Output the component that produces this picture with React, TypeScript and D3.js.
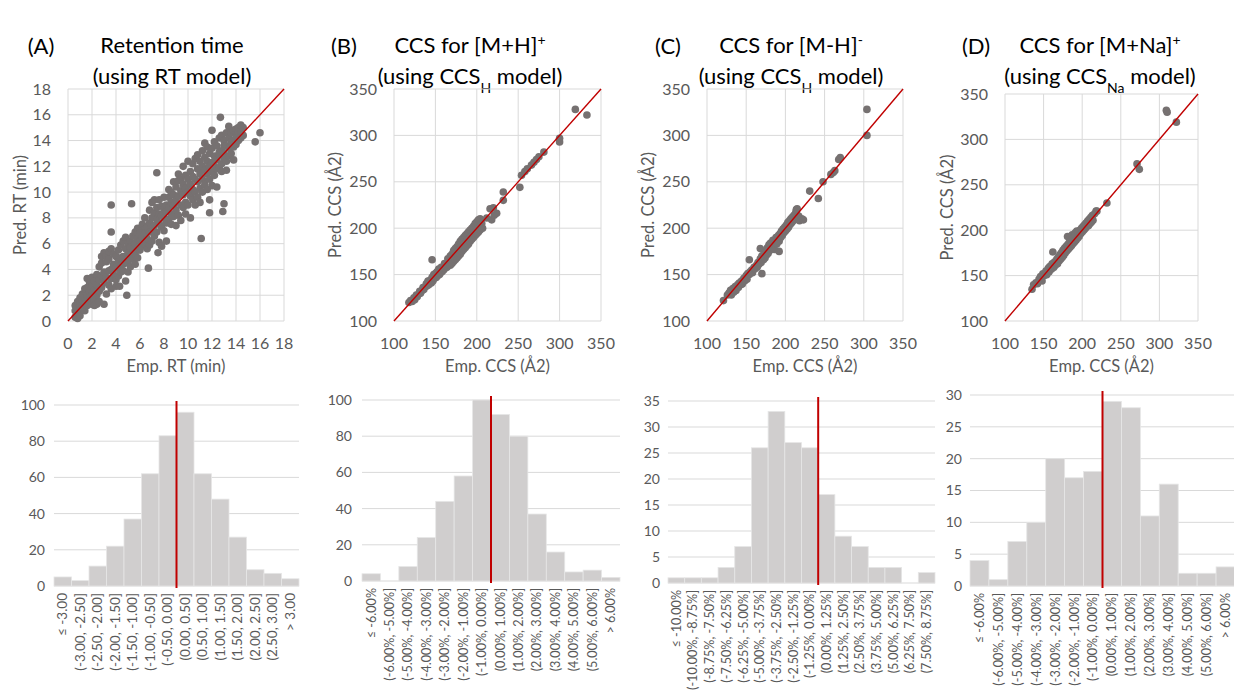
import React from "react";
import * as d3 from "d3";

const rtPoints: [number, number][] = [
  [0.6, 0.3], [0.6, 0.8], [0.6, 1.2], [0.8, 0.5], [0.8, 1.5], [0.8, 0.2], [1.0, 0.9], [1.0, 1.8], [1.0, 0.4], [1.0, 1.3],
  [1.2, 1.0], [1.2, 2.1], [1.2, 1.6], [1.4, 1.8], [1.4, 0.8], [1.4, 2.5], [1.4, 1.3], [1.6, 2.0], [1.6, 1.2], [1.6, 3.3],
  [1.6, 2.6], [1.8, 1.5], [1.8, 2.3], [1.8, 3.0], [2.0, 1.3], [2.0, 2.7], [2.0, 3.4], [2.0, 2.0], [2.2, 1.6], [2.2, 2.4],
  [2.2, 3.1], [2.2, 1.2], [2.4, 2.0], [2.4, 3.6], [2.4, 2.8], [2.4, 1.3], [2.6, 2.3], [2.6, 4.2], [2.6, 3.2], [2.6, 1.5],
  [2.8, 3.5], [2.8, 5.0], [2.8, 2.6], [2.8, 4.5], [3.0, 3.0], [3.0, 5.3], [3.0, 1.3], [3.0, 3.8], [3.2, 3.4], [3.2, 4.6],
  [3.2, 2.1], [3.2, 5.0], [3.4, 3.9], [3.4, 2.8], [3.4, 4.8], [3.4, 5.4], [3.6, 4.0], [3.6, 5.6], [3.6, 3.3], [3.6, 2.5],
  [3.8, 4.4], [3.8, 3.6], [3.8, 5.2], [4.0, 4.1], [4.0, 5.0], [4.0, 3.2], [4.0, 2.7], [4.2, 4.6], [4.2, 5.5], [4.2, 3.5],
  [4.3, 2.7], [4.4, 4.3], [4.4, 5.9], [4.4, 3.8], [4.4, 4.9], [4.6, 5.0], [4.6, 3.9], [4.6, 6.2], [4.6, 4.4], [4.8, 4.6],
  [4.8, 5.6], [4.8, 3.1], [4.8, 6.5], [5.0, 5.3], [5.0, 4.5], [5.0, 6.0], [5.0, 3.8], [5.2, 5.0], [5.2, 6.2], [5.2, 4.2],
  [5.2, 5.7], [5.4, 5.6], [5.4, 6.6], [5.4, 4.8], [5.6, 6.0], [5.6, 5.2], [5.6, 6.9], [5.6, 4.4], [5.8, 5.7], [5.8, 6.4],
  [5.8, 7.2], [5.8, 4.9], [6.0, 6.2], [6.0, 5.5], [6.0, 7.0], [6.0, 6.8], [6.2, 6.5], [6.2, 7.5], [6.2, 5.8], [6.4, 6.0],
  [6.4, 7.1], [6.4, 8.0], [6.4, 6.8], [6.6, 7.3], [6.6, 6.4], [6.6, 5.6], [6.7, 4.1], [6.8, 7.6], [6.8, 6.9], [6.8, 8.6],
  [6.8, 5.9], [7.0, 7.0], [7.0, 8.0], [7.0, 9.2], [7.0, 6.2], [7.2, 7.4], [7.2, 8.4], [7.2, 6.6], [7.2, 9.4], [7.4, 7.9],
  [7.4, 6.9], [7.4, 8.8], [7.5, 5.3], [7.6, 7.6], [7.6, 8.3], [7.6, 9.4], [7.6, 6.1], [7.8, 8.2], [7.8, 7.3], [7.8, 8.9],
  [7.8, 5.8], [8.0, 8.0], [8.0, 8.7], [8.0, 7.0], [8.0, 9.6], [8.2, 8.5], [8.2, 9.0], [8.2, 7.6], [8.2, 6.2], [8.4, 8.8],
  [8.4, 9.6], [8.4, 7.9], [8.4, 10.2], [8.6, 9.2], [8.6, 8.3], [8.6, 10.0], [8.6, 7.5], [8.8, 9.0], [8.8, 9.8], [8.8, 8.1],
  [8.8, 10.8], [9.0, 9.4], [9.0, 10.4], [9.0, 8.6], [9.0, 7.4], [9.2, 9.7], [9.2, 10.9], [9.2, 8.2], [9.2, 11.4], [9.4, 9.0],
  [9.4, 10.1], [9.4, 11.0], [9.4, 7.8], [9.6, 9.8], [9.6, 10.6], [9.6, 8.8], [9.6, 12.0], [9.8, 10.3], [9.8, 9.2], [9.8, 11.3],
  [9.8, 8.3], [10.0, 10.0], [10.0, 11.0], [10.0, 9.0], [10.0, 12.4], [10.2, 10.6], [10.2, 9.7], [10.2, 11.6], [10.2, 8.0], [10.4, 10.2],
  [10.4, 11.2], [10.4, 12.2], [10.4, 9.4], [10.6, 11.0], [10.6, 10.0], [10.6, 12.6], [10.6, 9.0], [10.8, 10.8], [10.8, 11.8], [10.8, 9.6],
  [10.8, 12.9], [11.0, 11.4], [11.0, 10.3], [11.0, 12.4], [11.0, 9.2], [11.2, 11.0], [11.2, 12.0], [11.2, 13.2], [11.2, 10.0], [11.4, 11.7],
  [11.4, 10.6], [11.4, 12.7], [11.4, 13.8], [11.6, 11.4], [11.6, 12.4], [11.6, 10.2], [11.6, 13.5], [11.8, 12.0], [11.8, 11.0], [11.8, 13.0],
  [11.8, 9.4], [11.8, 8.4], [12.0, 12.3], [12.0, 11.6], [12.0, 13.4], [12.0, 10.5], [12.2, 12.8], [12.2, 11.3], [12.2, 13.9], [12.2, 12.0],
  [12.4, 12.5], [12.4, 13.6], [12.4, 11.8], [12.4, 10.4], [12.6, 12.9], [12.6, 11.9], [12.6, 13.1], [12.6, 14.2], [12.8, 13.2], [12.8, 12.2],
  [12.8, 14.4], [12.8, 11.6], [13.0, 13.0], [13.0, 12.6], [13.0, 14.0], [13.0, 13.6], [13.0, 9.1], [12.9, 8.5], [13.2, 13.6], [13.2, 12.4],
  [13.2, 14.6], [13.2, 11.7], [13.4, 13.4], [13.4, 14.2], [13.4, 12.8], [13.4, 15.1], [13.6, 13.9], [13.6, 14.6], [13.6, 13.0], [13.8, 14.0],
  [13.8, 13.5], [13.8, 14.8], [13.8, 12.5], [14.0, 14.3], [14.0, 13.7], [14.0, 14.9], [14.2, 14.6], [14.2, 14.0], [14.2, 15.0], [14.4, 14.7],
  [14.4, 14.2], [14.4, 15.2], [14.6, 15.0], [14.6, 14.4],
  [3.6, 9.0], [5.3, 9.1], [3.6, 6.9], [7.4, 11.5], [4.9, 2.0], [11.1, 6.4], [12.7, 15.8], [12.0, 14.8], [16.0, 14.6], [15.6, 13.9],
];

const mhPosPoints: [number, number][] = [
  [118, 120], [120, 122], [122, 121], [124, 125], [125, 123], [127, 128], [128, 126], [130, 129], [131, 132], [132, 130],
  [134, 133], [135, 136], [136, 134], [138, 137], [139, 140], [140, 138], [141, 143], [142, 139], [144, 144], [145, 141],
  [146, 147], [147, 143], [148, 150], [149, 146], [150, 151], [151, 147], [152, 153], [153, 149], [154, 156], [155, 150],
  [156, 152], [157, 158], [158, 153], [159, 157], [160, 155], [161, 162], [162, 157], [163, 160], [164, 158], [165, 167],
  [166, 161], [167, 163], [168, 160], [168, 170], [169, 165], [170, 162], [170, 172], [171, 167], [172, 164], [172, 176],
  [173, 169], [174, 166], [174, 178], [175, 171], [176, 168], [176, 180], [177, 174], [178, 170], [178, 183], [179, 176],
  [180, 172], [180, 186], [181, 178], [182, 175], [182, 188], [183, 180], [184, 177], [184, 190], [185, 183], [186, 179],
  [186, 192], [187, 185], [188, 181], [188, 194], [189, 187], [190, 183], [190, 196], [191, 189], [192, 186], [192, 198],
  [193, 191], [194, 188], [194, 200], [195, 193], [196, 190], [196, 202], [197, 195], [198, 192], [198, 205], [199, 197],
  [200, 194], [200, 207], [201, 199], [202, 196], [202, 209], [203, 201], [204, 198], [204, 210], [205, 203], [206, 205],
  [207, 200], [146, 166], [212, 211], [216, 221], [218, 209], [224, 216], [220, 222], [221, 214], [232, 239], [232, 230],
  [252, 244], [254, 257], [258, 261], [261, 264], [266, 268], [269, 271], [272, 274], [275, 277], [281, 282], [300, 297],
  [300, 293], [319, 328], [333, 322],
];

const mhNegPoints: [number, number][] = [
  [121, 122], [126, 128], [128, 130], [130, 133], [131, 128], [133, 135], [134, 131], [136, 137], [137, 133], [139, 139],
  [140, 136], [141, 141], [143, 139], [144, 143], [145, 140], [147, 146], [148, 143], [150, 149], [151, 145], [152, 151],
  [154, 166], [154, 150], [155, 153], [157, 155], [158, 152], [160, 158], [161, 156], [163, 160], [164, 158], [165, 163],
  [166, 161], [168, 178], [168, 167], [169, 163], [170, 151], [170, 170], [172, 166], [173, 173], [174, 168], [175, 176],
  [176, 171], [177, 179], [178, 173], [179, 182], [180, 176], [181, 184], [182, 178], [183, 180], [184, 187], [185, 182],
  [186, 177], [187, 185], [188, 190], [189, 183], [190, 188], [191, 192], [192, 175], [192, 186], [193, 194], [194, 190],
  [195, 197], [196, 192], [197, 199], [198, 195], [199, 201], [200, 197], [201, 203], [202, 199], [203, 206], [204, 201],
  [205, 208], [206, 204], [207, 210], [208, 206], [209, 212], [210, 208], [211, 214], [212, 210], [213, 216], [214, 219],
  [215, 221], [217, 213], [218, 208], [214, 220], [221, 210], [223, 209], [231, 240], [242, 232], [248, 250], [258, 258],
  [261, 260], [263, 262], [268, 274], [270, 276], [304, 328], [304, 300],
];

const mnaPoints: [number, number][] = [
  [135, 135], [137, 140], [140, 142], [142, 141], [144, 146], [146, 149], [148, 144], [149, 152], [151, 150], [153, 155],
  [154, 151], [156, 158], [157, 154], [158, 160], [160, 157], [161, 163], [162, 176], [163, 159], [164, 165], [165, 161],
  [167, 168], [168, 163], [169, 170], [170, 166], [171, 173], [172, 168], [173, 175], [174, 170], [175, 178], [176, 172],
  [177, 180], [178, 175], [179, 182], [180, 177], [181, 193], [181, 184], [182, 179], [183, 186], [184, 181], [185, 188],
  [186, 183], [187, 195], [187, 190], [188, 185], [189, 192], [190, 187], [191, 197], [191, 194], [192, 189], [193, 199],
  [194, 191], [195, 197], [196, 193], [197, 200], [198, 196], [199, 202], [200, 198], [201, 204], [202, 200], [203, 206],
  [204, 202], [205, 208], [206, 204], [207, 210], [208, 205], [209, 212], [210, 207], [211, 214], [212, 209], [213, 216],
  [214, 211], [216, 218], [218, 221], [219, 221], [232, 230], [271, 273], [274, 267], [309, 332], [310, 330], [322, 319],
];

const rtTicks = [0, 2, 4, 6, 8, 10, 12, 14, 16, 18];
const ccsTicks = [100, 150, 200, 250, 300, 350];

// ---- histogram data ----
const rtBins = [
  "≤ -3.00", "(-3.00, -2.50]", "(-2.50, -2.00]", "(-2.00, -1.50]", "(-1.50, -1.00]", "(-1.00, -0.50]", "(-0.50, 0.00]",
  "(0.00, 0.50]", "(0.50, 1.00]", "(1.00, 1.50]", "(1.50, 2.00]", "(2.00, 2.50]", "(2.50, 3.00]", "> 3.00",
];
const rtCounts = [5, 3, 11, 22, 37, 62, 83, 96, 62, 48, 27, 9, 7, 4];

const pctBins = [
  "≤ -6.00%", "(-6.00%, -5.00%]", "(-5.00%, -4.00%]", "(-4.00%, -3.00%]", "(-3.00%, -2.00%]", "(-2.00%, -1.00%]",
  "(-1.00%, 0.00%]", "(0.00%, 1.00%]", "(1.00%, 2.00%]", "(2.00%, 3.00%]", "(3.00%, 4.00%]", "(4.00%, 5.00%]",
  "(5.00%, 6.00%]", "> 6.00%",
];
const mhPosCounts = [4, 0, 8, 24, 44, 58, 100, 92, 80, 37, 16, 5, 6, 2];
const mnaCounts = [4, 1, 7, 10, 20, 17, 18, 29, 28, 11, 16, 2, 2, 3];

const negBins = [
  "≤ -10.00%", "(-10.00%, -8.75%]", "(-8.75%, -7.50%]", "(-7.50%, -6.25%]", "(-6.25%, -5.00%]", "(-5.00%, -3.75%]",
  "(-3.75%, -2.50%]", "(-2.50%, -1.25%]", "(-1.25%, 0.00%]", "(0.00%, 1.25%]", "(1.25%, 2.50%]", "(2.50%, 3.75%]",
  "(3.75%, 5.00%]", "(5.00%, 6.25%]", "(6.25%, 7.50%]", "(7.50%, 8.75%]",
];
const mhNegCounts = [1, 1, 1, 3, 7, 26, 33, 27, 26, 17, 9, 7, 3, 3, 0, 2];

const FONT = "Lato, 'Open Sans', sans-serif";
const GRID = "#D9D9D9";
const TXT = "#595959";
const RED = "#C00000";

function Scatter({ points, ticks, box, yLabel, xLabel, yLabelX }) {
  const dom = [ticks[0], ticks[ticks.length - 1]];
  const x = d3.scaleLinear().domain(dom).range([box.l, box.r]);
  const y = d3.scaleLinear().domain(dom).range([box.b, box.t]);
  const midY = (box.t + box.b) / 2;
  return (
    <g>
      {ticks.map((t) => (
        <g key={t}>
          <line x1={x(t)} x2={x(t)} y1={box.t} y2={box.b} stroke={GRID} />
          <line x1={box.l} x2={box.r} y1={y(t)} y2={y(t)} stroke={GRID} />
          <text x={box.l - 17} y={y(t)} dy="0.35em" textAnchor="end" fontSize={16} fill={TXT}>{t}</text>
          <text x={x(t)} y={349} textAnchor="middle" fontSize={16} fill={TXT}>{t}</text>
        </g>
      ))}
      {points.map((p, i) => (
        <circle key={i} cx={x(p[0])} cy={y(p[1])} r={3.8} fill="#767171" />
      ))}
      <line x1={x(dom[0])} y1={y(dom[0])} x2={x(dom[1])} y2={y(dom[1])} stroke={RED} strokeWidth={1.4} />
      <text transform={`translate(${yLabelX},${midY}) rotate(-90)`} dy="0.35em" textAnchor="middle" fontSize={16.5} fill={TXT}>{yLabel}</text>
      <text x={(box.l + box.r) / 2} y={372} textAnchor="middle" fontSize={16.5} fill={TXT}>{xLabel}</text>
    </g>
  );
}

function Histogram({ bins, counts, yMax, yStep, box, zeroIdx, tickRight, labelSize }) {
  const x = d3.scaleBand().domain(bins).range([box.l, box.r]).padding(0);
  const y = d3.scaleLinear().domain([0, yMax]).range([box.b, box.t]);
  const ticks = d3.range(0, yMax + yStep / 2, yStep);
  return (
    <g>
      {ticks.map((t) => (
        <g key={t}>
          <line x1={box.l} x2={box.r} y1={y(t)} y2={y(t)} stroke={GRID} />
          <text x={tickRight} y={y(t)} dy="0.35em" textAnchor="end" fontSize={14} fill={TXT}>{t}</text>
        </g>
      ))}
      {bins.map((b, i) => (
        <rect key={b} x={x(b)} y={y(counts[i])} width={x.bandwidth()} height={y(0) - y(counts[i])}
          fill="#D0CECE" stroke="#E6E6E6" strokeWidth={0.8} />
      ))}
      <line x1={x(bins[zeroIdx])} x2={x(bins[zeroIdx])} y1={y(yMax) - 4} y2={y(0) + 2} stroke={RED} strokeWidth={2} />
      {bins.map((b) => (
        <text key={b} transform={`translate(${x(b) + x.bandwidth() / 2},${box.b + 7}) rotate(-90)`} dy="0.35em"
          textAnchor="end" fontSize={labelSize} fill={TXT}>{b}</text>
      ))}
    </g>
  );
}

function Title({ tag, tagX, cx, line1, line2 }) {
  return (
    <g fill="#000" fontSize={22}>
      <text x={tagX} y={54} textAnchor="middle">{tag}</text>
      <text x={cx} y={53} textAnchor="middle">{line1}</text>
      <text x={cx} y={84} textAnchor="middle">{line2}</text>
    </g>
  );
}

const sup = (s) => <tspan baselineShift="super" fontSize={14}>{s}</tspan>;
const sub = (s) => <tspan baselineShift="sub" fontSize={14}>{s}</tspan>;

export default function App() {
  return (
    <svg width={1234} height={690} style={{ position: "absolute", left: 0, top: 0, background: "#fff" }} fontFamily={FONT}>
      <Title tag="(A)" tagX={41} cx={172} line1="Retention time" line2="(using RT model)" />
      <Title tag="(B)" tagX={344} cx={470} line1={<>CCS for [M+H]{sup("+")}</>} line2={<>(using CCS{sub("H")} model)</>} />
      <Title tag="(C)" tagX={668} cx={791} line1={<>CCS for [M-H]{sup("-")}</>} line2={<>(using CCS{sub("H")} model)</>} />
      <Title tag="(D)" tagX={976} cx={1100} line1={<>CCS for [M+Na]{sup("+")}</>} line2={<>(using CCS{sub("Na")} model)</>} />

      <Scatter points={rtPoints} ticks={rtTicks} box={{ l: 68, r: 284, t: 89, b: 321 }} yLabel="Pred. RT (min)" xLabel="Emp. RT (min)" yLabelX={20} />
      <Scatter points={mhPosPoints} ticks={ccsTicks} box={{ l: 394, r: 601, t: 89, b: 321 }} yLabel="Pred. CCS (Å2)" xLabel="Emp. CCS (Å2)" yLabelX={335} />
      <Scatter points={mhNegPoints} ticks={ccsTicks} box={{ l: 707, r: 903, t: 89, b: 321 }} yLabel="Pred. CCS (Å2)" xLabel="Emp. CCS (Å2)" yLabelX={648} />
      <Scatter points={mnaPoints} ticks={ccsTicks} box={{ l: 1005, r: 1198, t: 94, b: 321 }} yLabel="Pred. CCS (Å2)" xLabel="Emp. CCS (Å2)" yLabelX={947} />

      <Histogram bins={rtBins} counts={rtCounts} yMax={100} yStep={20} box={{ l: 54, r: 299, t: 405, b: 586 }} zeroIdx={7} tickRight={45} labelSize={13.5} />
      <Histogram bins={pctBins} counts={mhPosCounts} yMax={100} yStep={20} box={{ l: 362, r: 620, t: 400, b: 581 }} zeroIdx={7} tickRight={352} labelSize={12.6} />
      <Histogram bins={negBins} counts={mhNegCounts} yMax={35} yStep={5} box={{ l: 668, r: 935, t: 401, b: 583 }} zeroIdx={9} tickRight={660} labelSize={12.6} />
      <Histogram bins={pctBins} counts={mnaCounts} yMax={30} yStep={5} box={{ l: 970, r: 1235, t: 395, b: 586 }} zeroIdx={7} tickRight={962} labelSize={12.6} />
    </svg>
  );
}
